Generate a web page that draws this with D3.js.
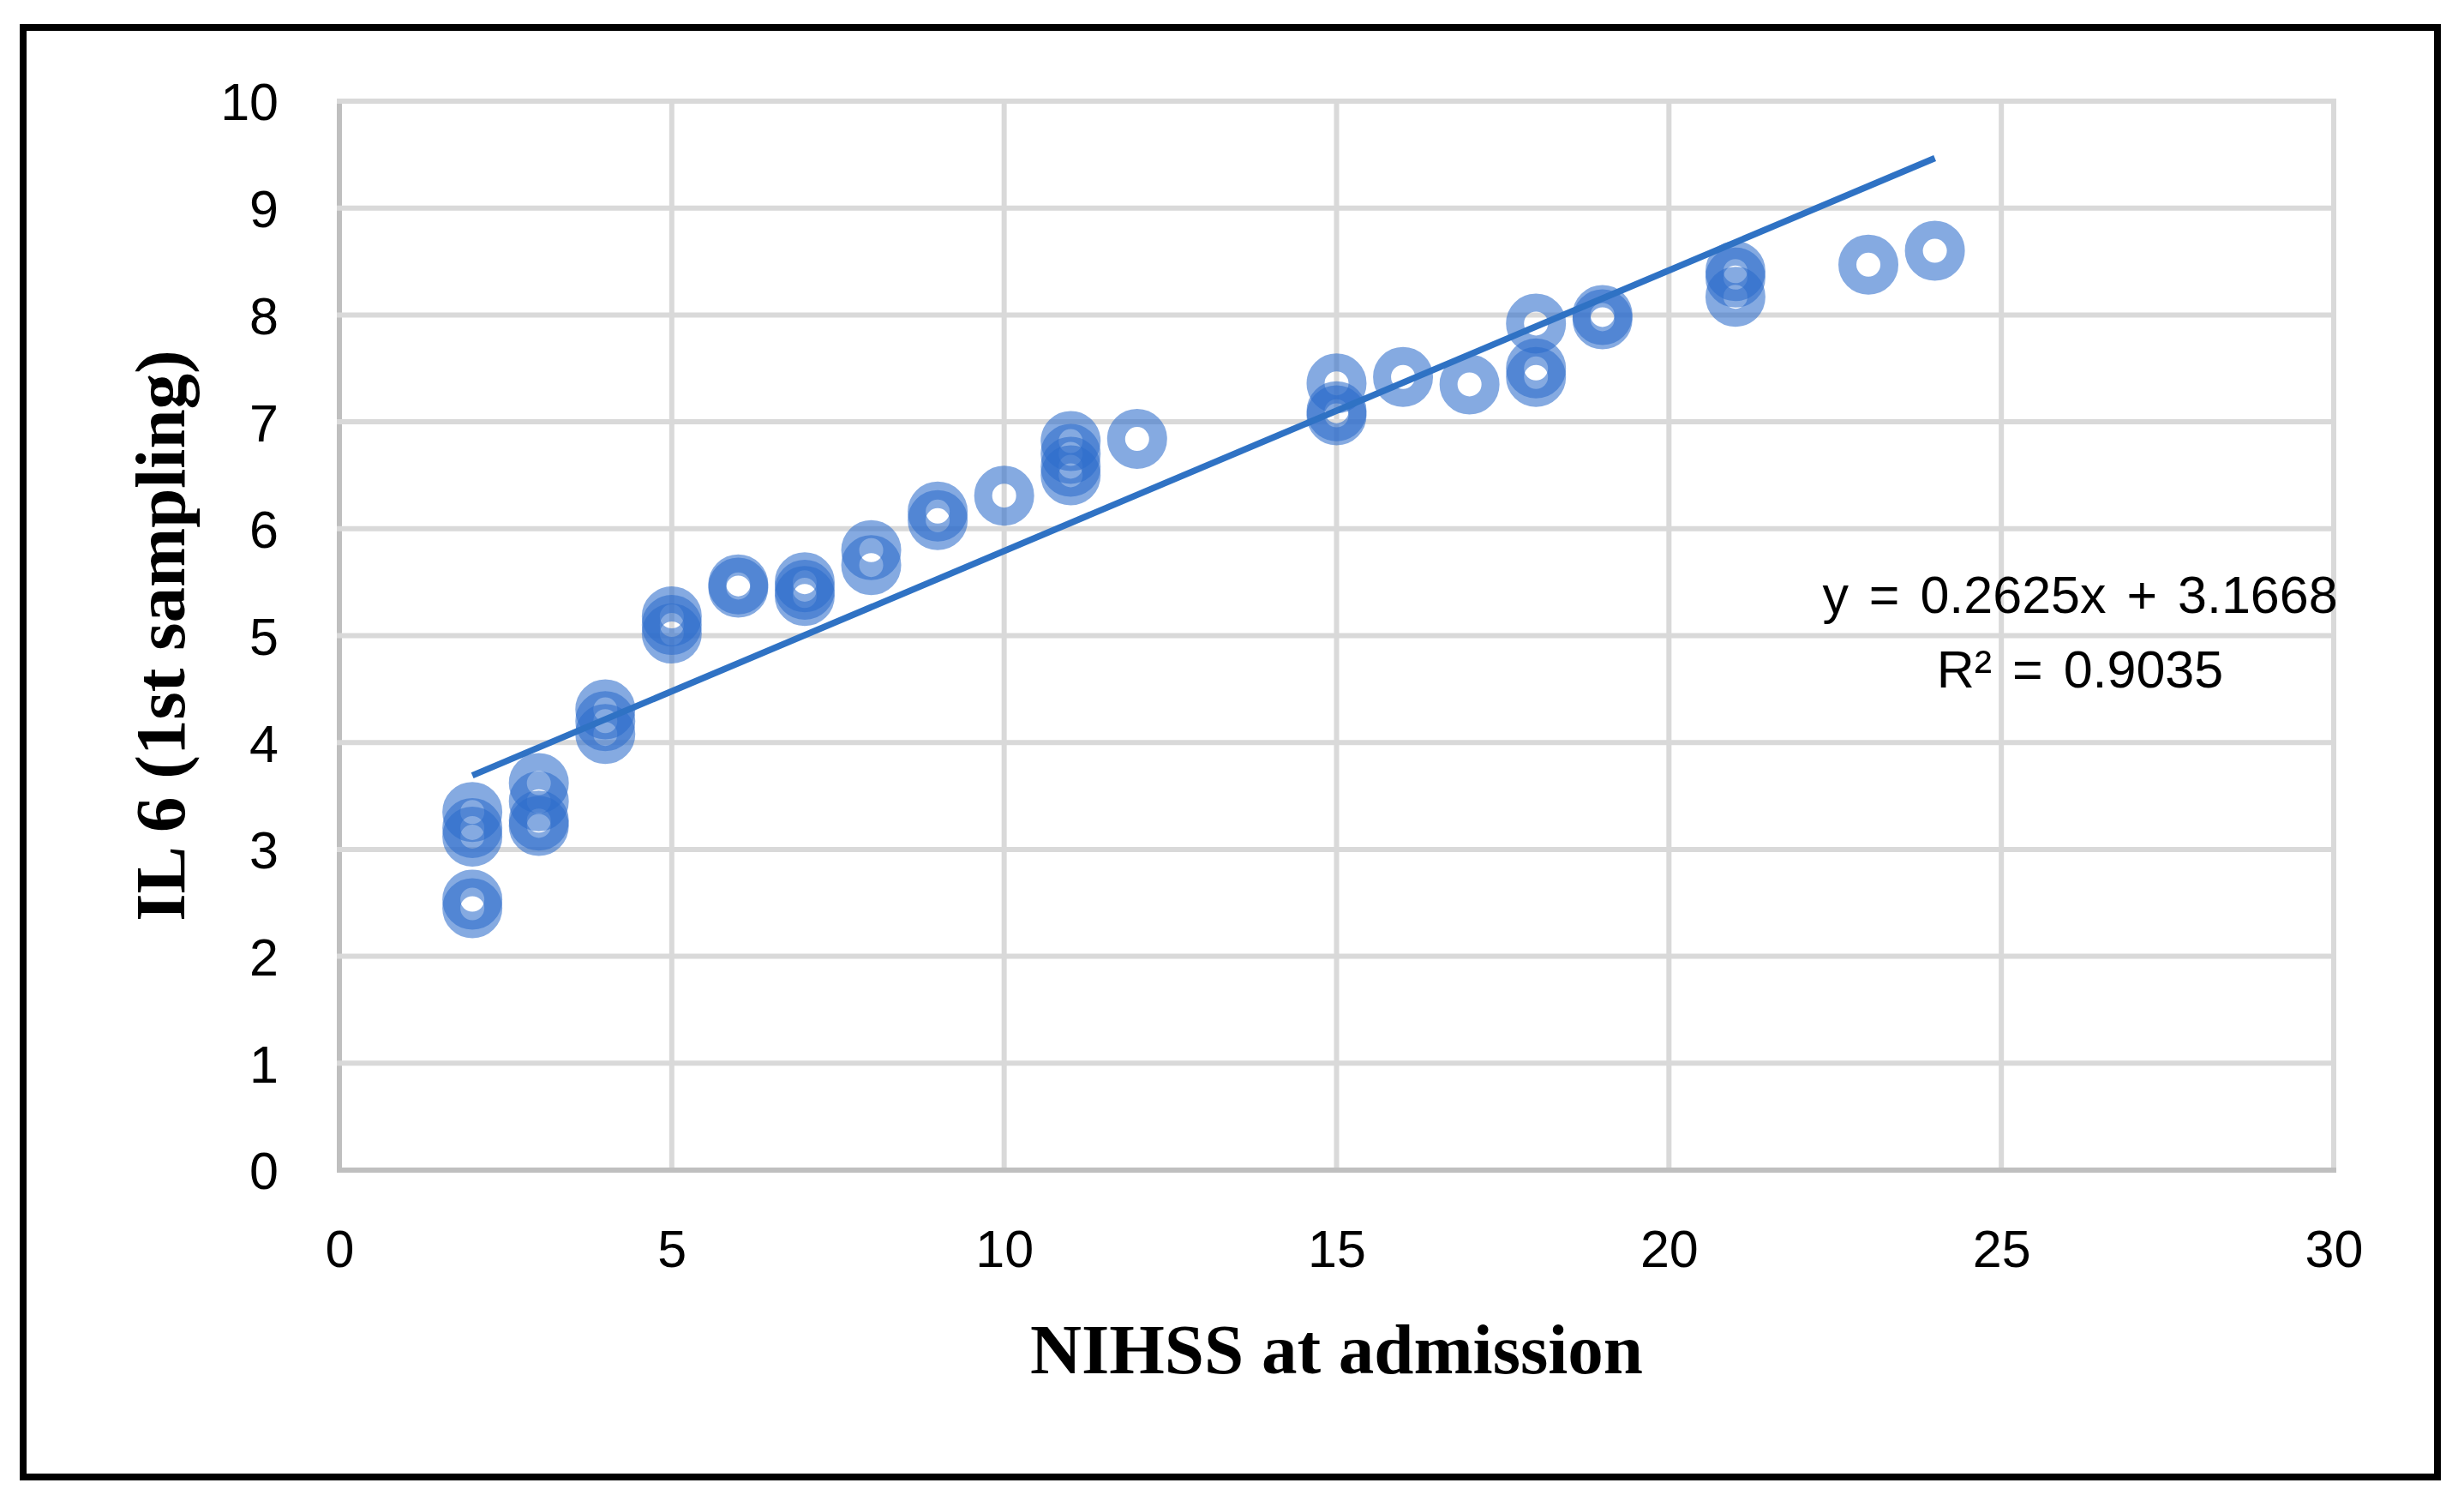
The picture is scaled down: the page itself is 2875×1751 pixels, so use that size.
<!DOCTYPE html>
<html>
<head>
<meta charset="utf-8">
<script src="https://cdn.jsdelivr.net/npm/d3@7/dist/d3.min.js"></script>
<style>
  html, body { margin: 0; padding: 0; background: #ffffff; }
  svg { display: block; }
</style>
</head>
<body>
<svg id="chart" width="2875" height="1751"></svg>
<script>
// ---- data ----
const nihss = [2, 2, 2, 2, 2,
               3, 3, 3, 3,
               4, 4, 4,
               5, 5, 5,
               6, 6,
               7, 7, 7,
               8, 8,
               9, 9,
               10,
               11, 11, 11, 11,
               12,
               15, 15, 15,
               16,
               17,
               18, 18, 18,
               19, 19,
               21, 21, 21,
               23,
               24];
const il6 = [3.35, 3.2, 3.12, 2.53, 2.45,
             3.62, 3.45, 3.27, 3.22,
             4.31, 4.2, 4.08,
             5.18, 5.1, 5.02,
             5.48, 5.45,
             5.5, 5.43, 5.37,
             5.8, 5.66,
             6.16, 6.08,
             6.31,
             6.82, 6.7, 6.58, 6.5,
             6.84,
             7.36, 7.1, 7.06,
             7.42,
             7.35,
             7.92, 7.5, 7.42,
             8.0, 7.96,
             8.41, 8.35, 8.17,
             8.47,
             8.6];
const xTicks = [0, 5, 10, 15, 20, 25, 30];
const yTicks = [0, 1, 2, 3, 4, 5, 6, 7, 8, 9, 10];
const trendSlope = 0.2625;
const trendIntercept = 3.1668;
const trendRange = [2, 24];
const equationLines = ["y = 0.2625x + 3.1668", "R\u00B2 = 0.9035"];
const xTitle = "NIHSS at admission";
const yTitle = "IL 6 (1st sampling)";

// ---- layout ----
const svg = d3.select("#chart");
const plot = { left: 396, right: 2723, top: 118, bottom: 1365 };

const x = d3.scaleLinear().domain([0, 30]).range([plot.left, plot.right]);
const y = d3.scaleLinear().domain([0, 10]).range([plot.bottom, plot.top]);

// outer frame
svg.append("rect")
  .attr("x", 27).attr("y", 32)
  .attr("width", 2817).attr("height", 1691)
  .attr("fill", "#ffffff")
  .attr("stroke", "#000000")
  .attr("stroke-width", 8);

const tickFont = "'Liberation Sans', Arial, sans-serif";

// vertical gridlines
svg.append("g")
  .selectAll("line")
  .data(xTicks)
  .join("line")
  .attr("x1", d => x(d)).attr("x2", d => x(d))
  .attr("y1", y(10)).attr("y2", y(0))
  .attr("stroke", d => d === 0 ? "#BFBFBF" : "#D9D9D9")
  .attr("stroke-width", 6);

// horizontal gridlines
svg.append("g")
  .selectAll("line")
  .data(yTicks)
  .join("line")
  .attr("x1", x(0) - 3).attr("x2", x(30) + 3)
  .attr("y1", d => y(d)).attr("y2", d => y(d))
  .attr("stroke", d => d === 0 ? "#BFBFBF" : "#D9D9D9")
  .attr("stroke-width", 6);

// axes via d3 axis generators (labels only)
const xAxis = d3.axisBottom(x).tickValues(xTicks).tickSize(0).tickPadding(0).tickFormat(d3.format("d"));
const gx = svg.append("g").attr("transform", `translate(0, ${plot.bottom})`).call(xAxis);
gx.select(".domain").remove();
gx.selectAll("text")
  .attr("dy", null)
  .attr("y", 113)
  .attr("fill", "#000000")
  .attr("font-family", tickFont)
  .attr("font-size", 61);

const yAxis = d3.axisLeft(y).tickValues(yTicks).tickSize(0).tickPadding(0).tickFormat(d3.format("d"));
const gy = svg.append("g").attr("transform", `translate(${plot.left}, 0)`).call(yAxis);
gy.select(".domain").remove();
gy.selectAll("text")
  .attr("x", -71)
  .attr("dy", "0.36em")
  .attr("fill", "#000000")
  .attr("font-family", tickFont)
  .attr("font-size", 61);

// markers (rings)
const points = nihss.map((v, i) => ({ x: v, y: il6[i] }));
svg.append("g")
  .selectAll("circle")
  .data(points)
  .join("circle")
  .attr("cx", d => x(d.x))
  .attr("cy", d => y(d.y))
  .attr("r", 24.5)
  .attr("fill", "none")
  .attr("stroke", "#2C6CCB")
  .attr("stroke-opacity", 0.58)
  .attr("stroke-width", 21);

// linear trendline
const line = d3.line().x(d => x(d)).y(d => y(trendSlope * d + trendIntercept));
svg.append("path")
  .datum(trendRange)
  .attr("d", line)
  .attr("fill", "none")
  .attr("stroke", "#2F72C4")
  .attr("stroke-width", 7.5);

// trendline equation
const eq = svg.append("text")
  .attr("x", 2427)
  .attr("text-anchor", "middle")
  .attr("font-family", tickFont)
  .attr("font-size", 61)
  .attr("word-spacing", 7)
  .attr("fill", "#000000");
eq.selectAll("tspan")
  .data(equationLines)
  .join("tspan")
  .attr("x", 2427)
  .attr("y", (d, i) => 715 + i * 87)
  .text(d => d);

// axis titles
const titleFont = "'Liberation Serif', 'DejaVu Serif', serif";
svg.append("text")
  .attr("x", (plot.left + plot.right) / 2)
  .attr("y", 1602)
  .attr("text-anchor", "middle")
  .attr("font-family", titleFont)
  .attr("font-weight", "bold")
  .attr("font-size", 83)
  .attr("fill", "#000000")
  .text(xTitle);

svg.append("text")
  .attr("transform", `translate(215, ${(plot.top + plot.bottom) / 2}) rotate(-90)`)
  .attr("text-anchor", "middle")
  .attr("font-family", titleFont)
  .attr("font-weight", "bold")
  .attr("font-size", 83)
  .attr("fill", "#000000")
  .text(yTitle);
</script>
</body>
</html>
